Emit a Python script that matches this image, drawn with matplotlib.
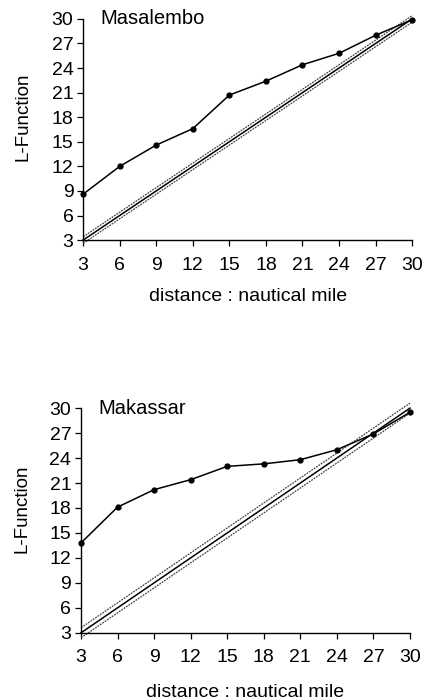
import matplotlib
matplotlib.use("Agg")
import matplotlib.pyplot as plt
import numpy as np

plt.rcParams['font.family'] = ['Liberation Sans', 'DejaVu Sans']

distance = [3, 6, 9, 12, 15, 18, 21, 24, 27, 30]
ticks = [3, 6, 9, 12, 15, 18, 21, 24, 27, 30]

masalembo_L = [8.6, 12.0, 14.6, 16.6, 20.7, 22.4, 24.4, 25.8, 28.0, 29.9]
masalembo_env = 0.4

makassar_L = [13.8, 18.1, 20.2, 21.4, 23.0, 23.3, 23.8, 25.0, 26.9, 29.5]
makassar_env = 0.6

fig = plt.figure(figsize=(4.24, 7.0), dpi=100)

panels = [
    ("Masalembo", masalembo_L, masalembo_env, [0.196, 0.657, 0.776, 0.316], 10, (-0.158, 0.557)),
    ("Makassar", makassar_L, makassar_env, [0.191, 0.096, 0.776, 0.321], 12.5, (-0.152, 0.551)),
]

for name, vals, env, rect, xlpad, ylcoords in panels:
    ax = fig.add_axes(rect)
    x = np.array(distance, dtype=float)
    ax.plot(x, x + env, color='#444444', lw=0.9, ls=(0, (1.5, 0.8)), clip_on=False)
    ax.plot(x, x - env, color='#444444', lw=0.9, ls=(0, (1.5, 0.8)), clip_on=False)
    ax.plot(x, x, color='black', lw=1.1, clip_on=False)
    ax.plot(x, vals, color='black', lw=1.1, marker='o', ms=3.5, clip_on=False)
    ax.set_xlim(3, 30)
    ax.set_ylim(3, 30)
    ax.set_xticks(ticks)
    ax.set_yticks(ticks)
    ax.spines['top'].set_visible(False)
    ax.spines['right'].set_visible(False)
    for s in ('left', 'bottom'):
        ax.spines[s].set_linewidth(1.0)
    ax.tick_params(axis='both', labelsize=14, length=4, width=0.9)
    ax.tick_params(axis='x', pad=8)
    ax.tick_params(axis='y', pad=3)
    ax.set_ylabel('L-Function', fontsize=13.5)
    ax.yaxis.set_label_coords(*ylcoords)
    ax.set_xlabel('distance : nautical mile', fontsize=14, labelpad=xlpad)
    ax.text(0.052, 1.0, name, transform=ax.transAxes, fontsize=14.5, va='center', ha='left')

fig.savefig('out.png', dpi=100)
